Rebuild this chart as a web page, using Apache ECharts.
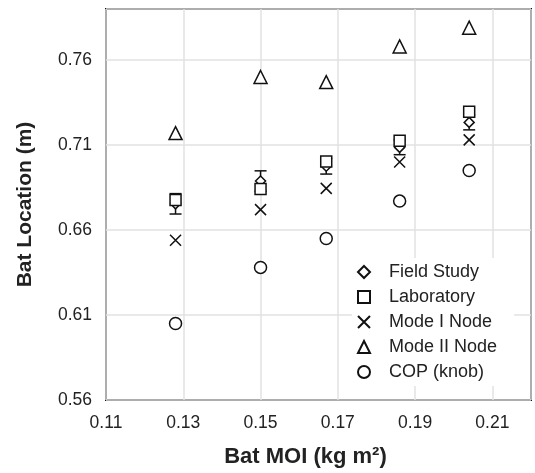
<!DOCTYPE html>
<html lang="en">
<head>
<meta charset="UTF-8">
<title>Bat location vs MOI</title>
<script src="https://cdn.jsdelivr.net/npm/echarts@6/dist/echarts.min.js"></script>
<style>
    html, body { margin: 0; padding: 0; background: #fff; }
    #chart { width: 535px; height: 473px; }
</style>
</head>
<body>
<div id="chart"></div>
<script>
    // bat MOI (kg m^2) for the five bats
    var moi = [0.128, 0.15, 0.167, 0.186, 0.204];

    var fieldStudy = [0.6754, 0.6888, 0.6975, 0.7086, 0.7233];
    var fieldErr = [0.006, 0.006, 0.0046, 0.0043, 0.0044];
    var laboratory = [0.6777, 0.6841, 0.7003, 0.7125, 0.7296];
    var modeINode = [0.654, 0.672, 0.6845, 0.700, 0.713];
    var modeIINode = [0.717, 0.750, 0.747, 0.768, 0.779];
    var copKnob = [0.605, 0.638, 0.655, 0.677, 0.695];

    var xTicks = [0.11, 0.13, 0.15, 0.17, 0.19, 0.21];
    var yTicks = [0.56, 0.61, 0.66, 0.71, 0.76];

    function pairs(vals) {
        return moi.map(function (x, i) { return [x, vals[i]]; });
    }

    var errData = moi.map(function (x, i) {
        return [x, fieldStudy[i] - fieldErr[i], fieldStudy[i] + fieldErr[i]];
    });

    var crossPath = 'path://M0,0L10,10M10,0L0,10';
    var font = 'Liberation Sans, Arial, sans-serif';

    function markerSeries(name, symbol, vals, size, z) {
        return {
            name: name,
            type: 'scatter',
            symbol: symbol,
            symbolSize: size,
            data: pairs(vals),
            itemStyle: { color: '#fff', borderColor: '#111', borderWidth: 1.5, opacity: 1 },
            emphasis: { disabled: true },
            z: z
        };
    }

    var chart = echarts.init(document.getElementById('chart'));
    var option = {
        animation: false,
        grid: {
            left: 106, right: 4, top: 9, bottom: 71,
            show: true, borderColor: '#111', borderWidth: 2, backgroundColor: 'transparent'
        },
        legend: {
            orient: 'vertical',
            left: 352, top: 258,
            itemWidth: 12, itemHeight: 12,
            itemGap: 7,
            padding: [5, 17, 5, 5],
            backgroundColor: '#fff',
            textStyle: { fontFamily: font, fontSize: 18, color: '#222', padding: [0, 0, 0, 14] },
            data: ['Field Study', 'Laboratory', 'Mode I Node', 'Mode II Node', 'COP (knob)']
        },
        xAxis: {
            type: 'value',
            min: 0.11, max: 0.22, interval: 0.02,
            name: 'Bat MOI (kg m²)',
            nameLocation: 'middle', nameGap: 46,
            nameTextStyle: { fontFamily: font, fontSize: 22, fontWeight: 'bold', color: '#222', padding: [0, 26, 0, 0] },
            axisLine: { show: false },
            axisTick: { show: false },
            axisLabel: {
                fontFamily: font, fontSize: 17.5, color: '#222', margin: 14,
                showMaxLabel: false,
                formatter: function (v) { return v.toFixed(2); }
            },
            splitLine: { show: true, lineStyle: { color: '#e2e2e2', width: 1.5 } }
        },
        yAxis: {
            type: 'value',
            min: 0.56, max: 0.79, interval: 0.05,
            name: 'Bat Location (m)',
            nameLocation: 'middle', nameGap: 70,
            nameTextStyle: { fontFamily: font, fontSize: 21, fontWeight: 'bold', color: '#222' },
            axisLine: { show: false },
            axisTick: { show: false },
            axisLabel: {
                fontFamily: font, fontSize: 17.5, color: '#222', margin: 14,
                showMaxLabel: false,
                formatter: function (v) { return v.toFixed(2); }
            },
            splitLine: { show: true, lineStyle: { color: '#e2e2e2', width: 1.5 } }
        },
        series: [
            {
                type: 'custom',
                name: 'err',
                data: errData,
                z: 2,
                renderItem: function (params, api) {
                    var x = api.value(0);
                    var lo = api.coord([x, api.value(1)]);
                    var hi = api.coord([x, api.value(2)]);
                    var cap = 6;
                    var st = { stroke: '#111', lineWidth: 1.5 };
                    return {
                        type: 'group',
                        children: [
                            { type: 'line', shape: { x1: lo[0], y1: lo[1], x2: hi[0], y2: hi[1] }, style: st },
                            { type: 'line', shape: { x1: lo[0] - cap, y1: lo[1], x2: lo[0] + cap, y2: lo[1] }, style: st },
                            { type: 'line', shape: { x1: hi[0] - cap, y1: hi[1], x2: hi[0] + cap, y2: hi[1] }, style: st }
                        ]
                    };
                }
            },
            markerSeries('Field Study', 'diamond', fieldStudy, 10, 3),
            markerSeries('Laboratory', 'rect', laboratory, 11, 4),
            markerSeries('Mode I Node', crossPath, modeINode, 11, 5),
            markerSeries('Mode II Node', 'triangle', modeIINode, 13, 5),
            markerSeries('COP (knob)', 'circle', copKnob, 12, 5)
        ]
    };
    chart.setOption(option);
</script>
</body>
</html>
